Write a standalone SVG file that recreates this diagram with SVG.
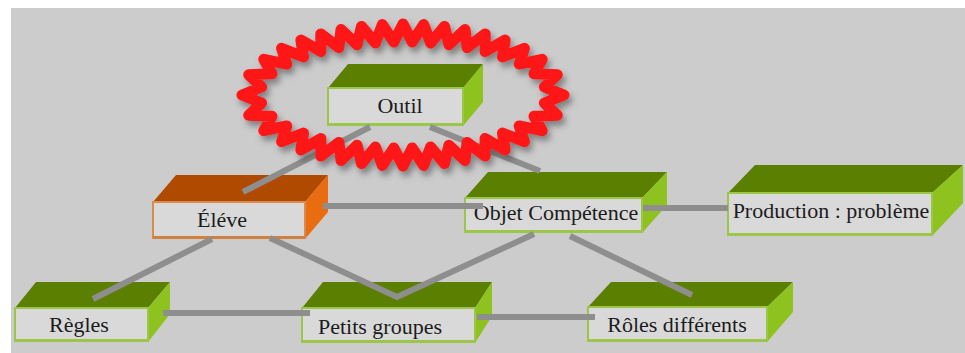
<svg xmlns="http://www.w3.org/2000/svg" width="965" height="353" viewBox="0 0 965 353">
<defs>
<style>
.tg{fill:#5b7f00}
.rg{fill:#8dc21f}
.fg{fill:#d9d9d9;stroke:#9cc64a;stroke-width:2}
.bg{stroke:#9cc64a;stroke-width:3}
.to{fill:#b04a00}
.ro{fill:#e96d10}
.fo{fill:#d9d9d9;stroke:#d98a4c;stroke-width:2}
.bo{stroke:#d08040;stroke-width:3}
.lbl{font-size:22px;fill:#1c1c1c;text-anchor:middle}
.cn{stroke:#8e8e8e;stroke-width:6;fill:none}
</style>
<filter id="sh" x="-20%" y="-30%" width="140%" height="160%">
<feDropShadow dx="3" dy="5" stdDeviation="3" flood-color="#444" flood-opacity="0.55"/>
</filter>
</defs>
<rect width="965" height="353" fill="#ffffff"/>
<rect x="11" y="8" width="954" height="345" fill="#cccccc"/>

<g font-family="'Liberation Serif', 'Times New Roman', 'DejaVu Serif', serif">
<g id="node-outil">
<polygon class="tg" points="328,88 348,64 483,64 463,88"/>
<polygon class="rg" points="463,88 483,64 483,102 463,126"/>
<rect class="fg" x="328" y="88" width="135" height="37"/>
<line class="bg" x1="328" y1="124.5" x2="463" y2="124.5"/>
<text class="lbl" x="400" y="113" font-family="Liberation Serif, serif">Outil</text>
</g>

<g id="node-eleve">
<polygon class="to" points="153,202 176,175 328,175 305,202"/>
<polygon class="ro" points="305,202 328,175 328,212 305,239"/>
<rect class="fo" x="153" y="202" width="152" height="36"/>
<line class="bo" x1="153" y1="237.5" x2="305" y2="237.5"/>
<text class="lbl" x="222" y="227" font-family="Liberation Serif, serif">Éléve</text>
</g>

<g id="node-objet">
<polygon class="tg" points="465,198 488,172 667,172 642,198"/>
<polygon class="rg" points="642,198 667,172 667,205 642,233"/>
<rect class="fg" x="465" y="198" width="177" height="34"/>
<line class="bg" x1="465" y1="231.5" x2="642" y2="231.5"/>
<text class="lbl" x="556" y="220" font-family="Liberation Serif, serif">Objet Compétence</text>
</g>

<g id="node-production">
<polygon class="tg" points="728,193 755,165 963,165 932,193"/>
<polygon class="rg" points="932,193 963,165 963,203 932,236"/>
<rect class="fg" x="728" y="193" width="204" height="42"/>
<line class="bg" x1="728" y1="234.5" x2="932" y2="234.5"/>
<text class="lbl" x="831" y="218" font-family="Liberation Serif, serif">Production : problème</text>
</g>

<g id="node-regles">
<polygon class="tg" points="15,308 36,282 170,282 148,308"/>
<polygon class="rg" points="148,308 170,282 170,314 148,342"/>
<rect class="fg" x="15" y="308" width="133" height="33"/>
<line class="bg" x1="15" y1="340.5" x2="148" y2="340.5"/>
<text class="lbl" x="79" y="332" font-family="Liberation Serif, serif">Règles</text>
</g>

<g id="node-petits">
<polygon class="tg" points="302,308 323,282 492,282 475,308"/>
<polygon class="rg" points="475,308 492,282 492,316 475,343"/>
<rect class="fg" x="302" y="308" width="173" height="34"/>
<line class="bg" x1="302" y1="341.5" x2="475" y2="341.5"/>
<text class="lbl" x="380" y="334" font-family="Liberation Serif, serif">Petits groupes</text>
</g>

<g id="node-roles">
<polygon class="tg" points="588,307 611,282 793,282 767,307"/>
<polygon class="rg" points="767,307 793,282 793,312 767,342"/>
<rect class="fg" x="588" y="307" width="179" height="34"/>
<line class="bg" x1="588" y1="340.5" x2="767" y2="340.5"/>
<text class="lbl" x="677" y="332" font-family="Liberation Serif, serif">Rôles différents</text>
</g>
</g>

<g id="connectors">
<line class="cn" x1="370" y1="127" x2="243" y2="192"/>
<line class="cn" x1="430" y1="127" x2="540" y2="171"/>
<line class="cn" x1="323" y1="206" x2="483" y2="206"/>
<line class="cn" x1="643" y1="208" x2="728" y2="208"/>
<line class="cn" x1="212" y1="239" x2="93" y2="299"/>
<polyline class="cn" points="270,238 397,297 534,234"/>
<line class="cn" x1="570" y1="236" x2="692" y2="295"/>
<line class="cn" x1="163" y1="313" x2="310" y2="313"/>
<line class="cn" x1="477" y1="317" x2="595" y2="317"/>
</g>

<g id="highlight" filter="url(#sh)">
<polygon transform="translate(403,95)" fill="none" stroke="#ff1414" stroke-width="11" stroke-linejoin="round" points="161,0 141.4,8 154.3,20.3 131,21.3 139.2,35.7 116.2,30.9 121.4,46.7 99.5,38.1 102.1,54.9 82.1,43.4 82.2,61.1 64.1,47.4 62,65.5 45.9,50.2 41.5,68.6 27.6,52 20.7,70.4 9.2,52.9 0,71 -9.2,52.9 -20.7,70.4 -27.6,52 -41.5,68.6 -45.9,50.2 -62,65.5 -64.1,47.4 -82.2,61.1 -82.1,43.4 -102.1,54.9 -99.5,38.1 -121.4,46.7 -116.2,30.9 -139.2,35.7 -131,21.3 -154.3,20.3 -141.4,8 -161,0 -141.4,-8 -154.3,-20.3 -131,-21.3 -139.2,-35.7 -116.2,-30.9 -121.4,-46.7 -99.5,-38.1 -102.1,-54.9 -82.1,-43.4 -82.2,-61.1 -64.1,-47.4 -62,-65.5 -45.9,-50.2 -41.5,-68.6 -27.6,-52 -20.7,-70.4 -9.2,-52.9 0,-71 9.2,-52.9 20.7,-70.4 27.6,-52 41.5,-68.6 45.9,-50.2 62,-65.5 64.1,-47.4 82.2,-61.1 82.1,-43.4 102.1,-54.9 99.5,-38.1 121.4,-46.7 116.2,-30.9 139.2,-35.7 131,-21.3 154.3,-20.3 141.4,-8"/>
</g>
</svg>
